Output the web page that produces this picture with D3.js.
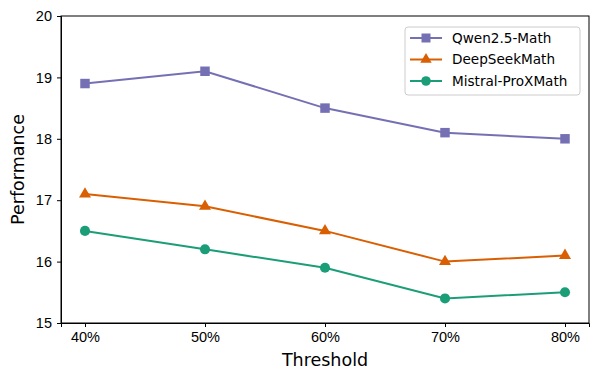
<!DOCTYPE html>
<html>
<head>
<meta charset="utf-8">
<script src="https://cdn.jsdelivr.net/npm/d3@7"></script>
<style>
  body { margin: 0; background: #fff; }
  svg { font-family: "DejaVu Sans", sans-serif; }
  .axis text { font-size: 14.5px; fill: #000; }
  .axis path, .axis line { stroke: #000; }
</style>
</head>
<body>
<svg width="600" height="380"></svg>
<script>
var thresholds = ['40%', '50%', '60%', '70%', '80%'];
var qwen = [18.9, 19.1, 18.5, 18.1, 18.0];
var deepseek = [17.1, 16.9, 16.5, 16.0, 16.1];
var mistral = [16.5, 16.2, 15.9, 15.4, 15.5];
var yTicks = [15, 16, 17, 18, 19, 20];

var series = [
    { name: 'Qwen2.5-Math', values: qwen, color: '#7570b3', marker: d3.symbolSquare, size: 90 },
    { name: 'DeepSeekMath', values: deepseek, color: '#d95f02', marker: d3.symbolTriangle, size: 62 },
    { name: 'Mistral-ProXMath', values: mistral, color: '#1b9e77', marker: d3.symbolCircle, size: 80 }
];

var plotLeft = 61, plotRight = 589, plotTop = 16, plotBottom = 323;

var xScale = d3.scalePoint()
    .domain(thresholds)
    .range([plotLeft, plotRight])
    .padding(0.2);

var yScale = d3.scaleLinear()
    .domain([15, 20])
    .range([plotBottom, plotTop]);

var svg = d3.select('svg');

svg.append('g')
    .attr('class', 'x axis')
    .attr('transform', 'translate(0,' + plotBottom + ')')
    .call(d3.axisBottom(xScale).tickSizeOuter(0).tickSize(4).tickPadding(5));

svg.append('g')
    .attr('class', 'y axis')
    .attr('transform', 'translate(' + plotLeft + ',0)')
    .call(d3.axisLeft(yScale).tickValues(yTicks).tickFormat(d3.format('d'))
        .tickSizeOuter(0).tickSize(4).tickPadding(5));

// box around plot
svg.append('rect')
    .attr('x', plotLeft)
    .attr('y', plotTop)
    .attr('width', plotRight - plotLeft)
    .attr('height', plotBottom - plotTop)
    .style('fill', 'none')
    .style('stroke', '#000')
    .style('stroke-width', 1);

var line = d3.line()
    .x(function(d, i) { return xScale(thresholds[i]); })
    .y(function(d) { return yScale(d); });

series.forEach(function(s) {
    svg.append('path')
        .datum(s.values)
        .attr('d', line)
        .style('fill', 'none')
        .style('stroke', s.color)
        .style('stroke-width', 2);

    svg.selectAll(null)
        .data(s.values)
        .enter()
        .append('path')
        .attr('d', d3.symbol().type(s.marker).size(s.size))
        .attr('transform', function(d, i) {
            return 'translate(' + xScale(thresholds[i]) + ',' + yScale(d) + ')';
        })
        .style('fill', s.color);
});

svg.append('text')
    .attr('x', (plotLeft + plotRight) / 2)
    .attr('y', 366)
    .attr('text-anchor', 'middle')
    .style('font-size', '17.5px')
    .text('Threshold');

svg.append('text')
    .attr('transform', 'translate(24,' + (plotTop + plotBottom) / 2 + ')rotate(270)')
    .attr('text-anchor', 'middle')
    .style('font-size', '17.5px')
    .text('Performance');

// legend
var legend = svg.append('g').attr('transform', 'translate(405,27)');
legend.append('rect')
    .attr('width', 175)
    .attr('height', 68)
    .attr('rx', 3)
    .style('fill', '#fff')
    .style('fill-opacity', 0.8)
    .style('stroke', '#ccc');

series.forEach(function(s, i) {
    var y = 11 + i * 21.5;
    legend.append('line')
        .attr('x1', 5).attr('x2', 37)
        .attr('y1', y).attr('y2', y)
        .style('stroke', s.color)
        .style('stroke-width', 2);
    legend.append('path')
        .attr('d', d3.symbol().type(s.marker).size(s.size * 0.9))
        .attr('transform', 'translate(21,' + y + ')')
        .style('fill', s.color);
    legend.append('text')
        .attr('x', 47)
        .attr('y', y)
        .attr('dy', '0.35em')
        .style('font-size', '13.6px')
        .text(s.name);
});
</script>
</body>
</html>
